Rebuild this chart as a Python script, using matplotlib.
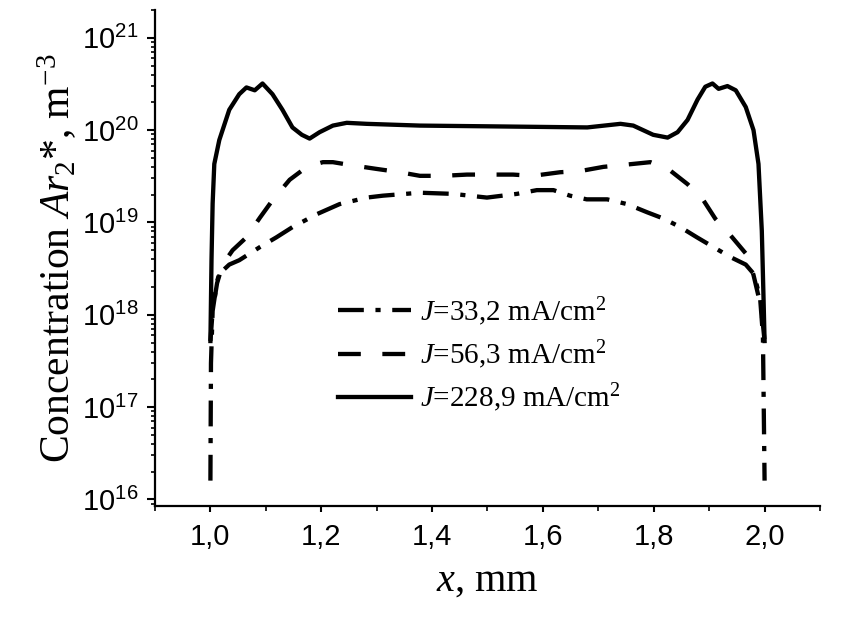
import matplotlib
matplotlib.use("Agg")
import matplotlib.pyplot as plt
from matplotlib.ticker import LogLocator, MultipleLocator, LogFormatterSciNotation

# ---- data ----
x_j1 = [1.000, 1.001, 1.004, 1.012, 1.018, 1.022, 1.034, 1.052, 1.089, 1.119, 1.148, 1.192,
        1.233, 1.282, 1.311, 1.378, 1.438, 1.499, 1.553, 1.589, 1.619, 1.649, 1.679, 1.716,
        1.752, 1.788, 1.818, 1.848, 1.878, 1.908, 1.939, 1.966, 1.981, 1.992, 1.997, 2.000]
y_j1 = [1.6e16, 3.0e17, 1.1e18, 2.3e18, 3.1e18, 3.0e18, 3.5e18, 3.9e18, 5.4e18, 6.9e18, 8.9e18, 1.23e19,
        1.58e19, 1.86e19, 1.95e19, 2.1e19, 2.04e19, 1.86e19, 2.04e19, 2.24e19, 2.24e19, 1.95e19, 1.78e19, 1.78e19,
        1.58e19, 1.29e19, 1.10e19, 8.9e18, 6.9e18, 5.4e18, 4.2e18, 3.5e18, 2.75e18, 1.5e18, 6.0e17, 1.6e16]

x_j2 = [1.000, 1.004, 1.012, 1.022, 1.040, 1.065, 1.089, 1.112, 1.143, 1.174, 1.203, 1.221,
        1.251, 1.300, 1.342, 1.378, 1.420, 1.463, 1.505, 1.546, 1.582, 1.631, 1.667, 1.709,
        1.745, 1.794, 1.826, 1.861, 1.888, 1.911, 1.939, 1.969, 1.980, 1.990, 1.996, 2.000]
y_j2 = [5.2e17, 1.1e18, 2.2e18, 3.5e18, 5.0e18, 6.9e18, 1.12e19, 1.74e19, 2.9e19, 4.0e19, 4.5e19, 4.5e19,
        4.2e19, 3.8e19, 3.5e19, 3.2e19, 3.2e19, 3.3e19, 3.3e19, 3.3e19, 3.2e19, 3.5e19, 3.6e19, 4.0e19,
        4.2e19, 4.5e19, 3.8e19, 2.6e19, 1.8e19, 1.1e19, 7.2e18, 4.4e18, 2.7e18, 1.5e18, 9.0e17, 5.2e17]

x_j3 = [1.000, 1.002, 1.004, 1.007, 1.016, 1.034, 1.052, 1.065, 1.080, 1.094, 1.112, 1.130,
        1.148, 1.165, 1.179, 1.197, 1.221, 1.246, 1.282, 1.378, 1.500, 1.680, 1.740, 1.763,
        1.799, 1.825, 1.843, 1.861, 1.879, 1.893, 1.906, 1.917, 1.933, 1.948, 1.966, 1.980,
        1.989, 1.995, 1.998, 2.000]
y_j3 = [5.2e17, 4.0e18, 1.6e19, 4.3e19, 7.8e19, 1.66e20, 2.45e20, 2.9e20, 2.7e20, 3.2e20, 2.45e20, 1.66e20,
        1.07e20, 8.9e19, 8.1e19, 9.5e19, 1.12e20, 1.2e20, 1.17e20, 1.12e20, 1.1e20, 1.07e20, 1.17e20, 1.12e20,
        8.9e19, 8.3e19, 9.5e19, 1.29e20, 2.14e20, 2.95e20, 3.2e20, 2.8e20, 3.0e20, 2.7e20, 1.78e20, 1.0e20,
        4.3e19, 8.1e18, 1.6e18, 5.2e17]

labels = ["$J$=33,2 mA/cm$^{2}$", "$J$=56,3 mA/cm$^{2}$", "$J$=228,9 mA/cm$^{2}$"]
x_ticks = [1.0, 1.2, 1.4, 1.6, 1.8, 2.0]
x_ticklabels = ["1,0", "1,2", "1,4", "1,6", "1,8", "2,0"]

# ---- style ----
plt.rcParams['mathtext.fontset'] = 'custom'
plt.rcParams['mathtext.rm'] = 'Liberation Serif'
plt.rcParams['mathtext.it'] = 'Liberation Serif:italic'
plt.rcParams['mathtext.bf'] = 'Liberation Serif:bold'

fig = plt.figure(figsize=(8.42, 6.25), dpi=100)
ax = fig.add_axes([155/842, 1-506/625, 665/842, 496/625])

lw = 3.1
l1, = ax.plot(x_j1, y_j1, color='black', lw=lw, dashes=(6.0, 2.7, 1.2, 2.7), label=labels[0])
l2, = ax.plot(x_j2, y_j2, color='black', lw=lw, dashes=(5.3, 5.0), label=labels[1])
l3, = ax.plot(x_j3, y_j3, color='black', lw=lw, solid_joinstyle='round', label=labels[2])

ax.set_yscale('log')
ax.set_xlim(0.9, 2.1)
ax.set_ylim(8.5e15, 2e21)

for s in ['top', 'right']:
    ax.spines[s].set_visible(False)
for s in ['left', 'bottom']:
    ax.spines[s].set_linewidth(1.6)

ax.yaxis.set_major_locator(LogLocator(base=10, numticks=20))
ax.yaxis.set_minor_locator(LogLocator(base=10, subs=range(2, 10), numticks=20))
ax.yaxis.set_major_formatter(LogFormatterSciNotation())
ax.xaxis.set_minor_locator(MultipleLocator(0.1))
ax.set_xticks(x_ticks)
ax.set_xticklabels(x_ticklabels)

ax.tick_params(axis='y', which='major', direction='out', length=6, width=1.5, pad=6, labelsize=21)
ax.tick_params(axis='y', which='minor', direction='out', length=3, width=1.2)
ax.tick_params(axis='x', which='major', direction='out', length=4.5, width=1.5, pad=8, labelsize=21)
ax.tick_params(axis='x', which='minor', direction='out', length=3.5, width=1.2)
for t in ax.get_xticklabels() + ax.get_yticklabels():
    t.set_family('Liberation Sans')

ax.set_ylabel("Concentration $Ar_2$*, m$^{-3}$", family='Liberation Serif', fontsize=30, labelpad=2)
ax.set_xlabel("$x$, mm", family='Liberation Serif', fontsize=29, labelpad=8)

leg = ax.legend(handles=[l1, l2, l3], loc='upper left', bbox_to_anchor=(0.275, 0.425),
                frameon=False, borderpad=0, borderaxespad=0, handlelength=2.5,
                handletextpad=0.32, labelspacing=0.36,
                prop={'family': 'Liberation Serif', 'size': 21})

fig.savefig('out.png', dpi=100)
